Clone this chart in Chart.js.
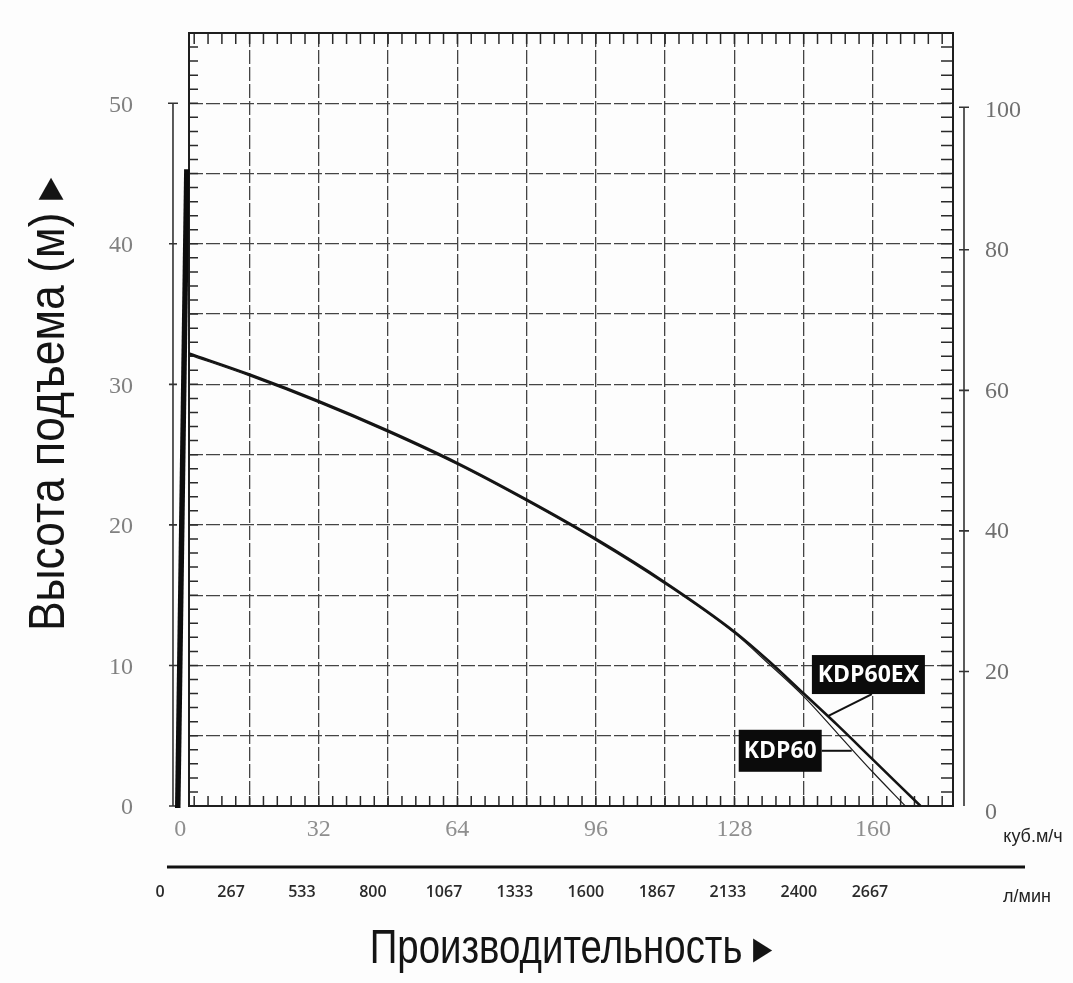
<!DOCTYPE html>
<html>
<head>
<meta charset="utf-8">
<script src="https://cdn.jsdelivr.net/npm/chart.js@4.4.1/dist/chart.umd.min.js"></script>
<style>
html,body{margin:0;padding:0;background:#fdfdfd;}
canvas{display:block;}
</style>
</head>
<body>
<canvas id="c" width="1073" height="983"></canvas>
<script>
// ---- data (flow in m3/h, head in m) ----
const SERIES_NAMES = ['KDP60EX', 'KDP60'];
const FLOW_EX    = [2,    16,   32,   48,   64,   80,   96,   112,  128,  136,  144,  152,  160,  171];
const HEAD_EX    = [32.2, 30.7, 28.8, 26.7, 24.4, 21.8, 19.0, 15.9, 12.4, 10.3, 8.0,  5.7,  3.3,  0];
const FLOW_KDP60 = [2,    16,   32,   48,   64,   80,   96,   112,  128,  136,  144,  152,  160,  167.5];
const HEAD_KDP60 = [32.1, 30.6, 28.7, 26.6, 24.3, 21.7, 18.9, 15.8, 12.3, 10.1, 7.8,  5.1,  2.4,  0];

// ---- axes / ticks ----
const FLOW_GRID   = [0, 16, 32, 48, 64, 80, 96, 112, 128, 144, 160];
const FLOW_LABELS = [0, 32, 64, 96, 128, 160];
const HEAD_GRID   = [0, 5, 10, 15, 20, 25, 30, 35, 40, 45, 50];
const HEAD_LABELS = [0, 10, 20, 30, 40, 50];
const RIGHT_TICKS = [0, 20, 40, 60, 80, 100];
const LMIN_TICKS  = [0, 267, 533, 800, 1067, 1333, 1600, 1867, 2133, 2400, 2667];
const FLOW_MIN = 2, FLOW_MAX = 178.5;
const HEAD_MIN = 0, HEAD_MAX = 55;
const RIGHT_MIN = 0, RIGHT_MAX = 110;
const LMIN_MIN = 109, LMIN_MAX = 2979;
const Y_TITLE = 'Высота подъема (м) ▸';
const X_TITLE = 'Производительность ▸';
const UNIT_FLOW = 'куб.м/ч';
const UNIT_LMIN = 'л/мин';
const LABEL_ANCHORS = [[149.6, 6.4], [155.1, 4.0]]; // points on the curves where the name callouts point

const GRID_COLOR = '#444444';
const TRANSPARENT = 'rgba(0,0,0,0)';
const TITLE_FONT = "'Liberation Sans', Arial, sans-serif";

function noPad(s) { s.paddingTop = 0; s.paddingBottom = 0; s.paddingLeft = 0; s.paddingRight = 0; }

const decor = {
  id: 'decor',
  beforeDatasetsDraw(chart) {
    const {ctx, chartArea: a, scales: {x, y}} = chart;
    ctx.save();
    // minor ticks inside the frame
    ctx.strokeStyle = '#2a2a2a';
    ctx.lineWidth = 1.5;
    ctx.beginPath();
    for (let i = 1; i * 3.2 < x.max; i++) {
      const px = x.getPixelForValue(i * 3.2);
      if (px <= a.left + 2 || px >= a.right - 2) continue;
      ctx.moveTo(px, a.top); ctx.lineTo(px, a.top + 11);
      ctx.moveTo(px, a.bottom); ctx.lineTo(px, a.bottom - 10);
    }
    for (let v = 1; v < y.max; v++) {
      const py = y.getPixelForValue(v);
      ctx.moveTo(a.left, py); ctx.lineTo(a.left + 9, py);
      ctx.moveTo(a.right, py); ctx.lineTo(a.right - 12, py);
    }
    ctx.stroke();
    // frame
    ctx.strokeStyle = '#1e1e1e';
    ctx.lineWidth = 2;
    ctx.strokeRect(a.left, a.top, a.right - a.left, a.bottom - a.top);
    ctx.restore();
  },
  afterDraw(chart) {
    const {ctx, chartArea: a, scales: {x, y, x2}} = chart;
    ctx.save();
    // thin left axis line with cap
    const tx = x.getPixelForValue(-1.7);
    ctx.strokeStyle = '#333'; ctx.lineWidth = 1.6;
    ctx.beginPath();
    ctx.moveTo(tx, y.getPixelForValue(50)); ctx.lineTo(tx, y.getPixelForValue(0));
    ctx.moveTo(tx - 5, y.getPixelForValue(50)); ctx.lineTo(tx + 5, y.getPixelForValue(50));
    for (const v of HEAD_LABELS) { const py = y.getPixelForValue(v); ctx.moveTo(tx - 4, py); ctx.lineTo(tx + 4, py); }
    ctx.stroke();
    // thick near-zero bar
    ctx.strokeStyle = '#0d0d0d'; ctx.lineWidth = 5.5;
    ctx.beginPath();
    ctx.moveTo(x.getPixelForValue(1.5), y.getPixelForValue(45.3));
    ctx.lineTo(x.getPixelForValue(-0.6), y.getPixelForValue(0) + 2);
    ctx.stroke();
    // right axis line with cap
    const rx = a.right + 11;
    ctx.strokeStyle = '#333'; ctx.lineWidth = 1.6;
    ctx.beginPath();
    ctx.moveTo(rx, y.getPixelForValue(50) + 4); ctx.lineTo(rx, y.getPixelForValue(0));
    ctx.moveTo(rx - 5, y.getPixelForValue(50) + 4); ctx.lineTo(rx + 5, y.getPixelForValue(50) + 4);
    for (const v of HEAD_LABELS) { const py = y.getPixelForValue(v) + 6; if (v === 50 || v === 0) continue; ctx.moveTo(rx - 5, py); ctx.lineTo(rx + 5, py); }
    ctx.stroke();
    // separator line above l/min scale
    ctx.strokeStyle = '#111'; ctx.lineWidth = 3;
    ctx.beginPath();
    ctx.moveTo(x2.getPixelForValue(LMIN_TICKS[0]) + 7, x2.top + 9);
    ctx.lineTo(chart.width - 48, x2.top + 9);
    ctx.stroke();
    // units
    ctx.fillStyle = '#222';
    ctx.font = "18px 'Liberation Sans', Arial, sans-serif";
    ctx.textAlign = 'center'; ctx.textBaseline = 'middle';
    ctx.fillText(UNIT_FLOW, chart.width - 40, x.top + 31);
    ctx.fillText(UNIT_LMIN, chart.width - 46, x2.top + 39);
    // axis titles (condensed, as in the scan)
    ctx.fillStyle = '#141414';
    ctx.save();
    ctx.translate(y.left + 50, (a.top + a.bottom) / 2 - 15);
    ctx.rotate(-Math.PI / 2);
    ctx.scale(0.89, 1);
    ctx.font = '50px ' + TITLE_FONT;
    ctx.fillText(Y_TITLE, 0, 0);
    ctx.restore();
    ctx.save();
    ctx.translate((a.left + a.right) / 2, x2.bottom - 33);
    ctx.scale(0.8, 1);
    ctx.font = '48px ' + TITLE_FONT;
    ctx.fillText(X_TITLE, 0, 0);
    ctx.restore();
    // series callouts
    ctx.font = "bold 23px 'Open Sans', 'Liberation Sans', sans-serif";
    const [exA, k60A] = LABEL_ANCHORS.map(([q, h]) => [x.getPixelForValue(q), y.getPixelForValue(h)]);
    // KDP60EX
    let bx = exA[0] - 16, by = exA[1] - 61, bw = 113, bh = 39;
    ctx.strokeStyle = '#111'; ctx.lineWidth = 2;
    ctx.beginPath(); ctx.moveTo(bx + 60, by + bh); ctx.lineTo(exA[0], exA[1]); ctx.stroke();
    ctx.fillStyle = '#0b0b0b'; ctx.fillRect(bx, by, bw, bh);
    ctx.fillStyle = '#ffffff'; ctx.fillText(SERIES_NAMES[0], bx + bw / 2, by + bh / 2 + 1);
    // KDP60
    bx = k60A[0] - 113; by = k60A[1] - 20; bw = 83; bh = 42;
    ctx.beginPath(); ctx.moveTo(bx + bw, k60A[1] + 1); ctx.lineTo(k60A[0], k60A[1] + 1); ctx.stroke();
    ctx.fillStyle = '#0b0b0b'; ctx.fillRect(bx, by, bw, bh);
    ctx.fillStyle = '#ffffff'; ctx.fillText(SERIES_NAMES[1], bx + bw / 2, by + bh / 2 + 1);
    ctx.restore();
  }
};

new Chart(document.getElementById('c'), {
  type: 'line',
  data: {
    datasets: [
      {
        label: SERIES_NAMES[0],
        data: FLOW_EX.map((q, i) => ({x: q, y: HEAD_EX[i]})),
        borderColor: '#141414', borderWidth: 2.6, pointRadius: 0,
        cubicInterpolationMode: 'monotone', fill: false
      },
      {
        label: SERIES_NAMES[1],
        data: FLOW_KDP60.map((q, i) => ({x: q, y: HEAD_KDP60[i]})),
        borderColor: '#1c1c1c', borderWidth: 1.2, pointRadius: 0,
        cubicInterpolationMode: 'monotone', fill: false
      }
    ]
  },
  options: {
    responsive: false,
    animation: false,
    devicePixelRatio: 1,
    layout: {padding: {top: 33, left: 0, right: 0, bottom: 0}},
    plugins: {legend: {display: false}, tooltip: {enabled: false}},
    scales: {
      x: {
        type: 'linear', position: 'bottom', weight: 0,
        min: FLOW_MIN, max: FLOW_MAX,
        afterBuildTicks: s => { s.ticks = FLOW_GRID.map(v => ({value: v})); },
        afterFit: s => { s.height = 52; noPad(s); },
        ticks: {
          autoSkip: false, maxRotation: 0, padding: 9, color: '#8e8e8e',
          font: {family: "'Liberation Serif', serif", size: 24},
          callback: v => FLOW_LABELS.includes(v) ? String(v) : ''
        },
        grid: {color: c => (c.tick && c.tick.value === 0) ? TRANSPARENT : GRID_COLOR, lineWidth: 1.3, drawTicks: false},
        border: {display: false, dash: [14, 3]}
      },
      x2: {
        type: 'linear', position: 'bottom', weight: 1,
        min: LMIN_MIN, max: LMIN_MAX,
        afterBuildTicks: s => { s.ticks = LMIN_TICKS.map(v => ({value: v})); },
        afterFit: s => { s.height = 125; noPad(s); },
        ticks: {
          autoSkip: false, maxRotation: 0, padding: 17, color: '#2a2a2a',
          font: {family: "'Open Sans', sans-serif", size: 16, weight: '600'},
          callback: v => String(v)
        },
        grid: {display: false},
        border: {display: false}
      },
      y: {
        type: 'linear', position: 'left',
        min: HEAD_MIN, max: HEAD_MAX,
        afterBuildTicks: s => { s.ticks = HEAD_GRID.map(v => ({value: v})); },
        afterFit: s => { s.width = 189; noPad(s); },
        ticks: {
          autoSkip: false, padding: 56, labelOffset: 2, color: '#808080',
          font: {family: "'Liberation Serif', serif", size: 24},
          callback: v => HEAD_LABELS.includes(v) ? String(v) : ''
        },
        grid: {color: c => (c.tick && c.tick.value === 0) ? TRANSPARENT : GRID_COLOR, lineWidth: 1.3, drawTicks: false},
        border: {display: false, dash: [14, 3]}
      },
      y2: {
        type: 'linear', position: 'right',
        min: RIGHT_MIN, max: RIGHT_MAX,
        afterBuildTicks: s => { s.ticks = RIGHT_TICKS.map(v => ({value: v})); },
        afterFit: s => { s.width = 120; noPad(s); },
        ticks: {
          autoSkip: false, padding: 24, labelOffset: 7, color: '#707070',
          font: {family: "'Liberation Serif', serif", size: 24}
        },
        grid: {display: false},
        border: {display: false}
      }
    }
  },
  plugins: [decor]
});
</script>
</body>
</html>
